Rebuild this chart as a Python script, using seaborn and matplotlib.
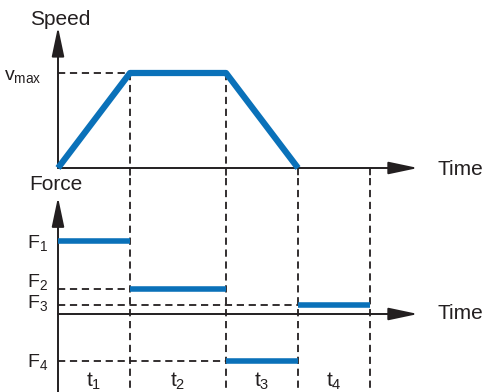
import matplotlib
matplotlib.use("Agg")
import matplotlib.pyplot as plt
import matplotlib.transforms as mtransforms
import seaborn as sns
import pandas as pd

# --- Data ---
phase_ends = [0, 3, 7, 10, 13]               # boundaries of t1..t4
phase_labels = ["t$_1$", "t$_2$", "t$_3$", "t$_4$"]

speed_t = [0, 3, 7, 10]
speed_v = [0, 1, 1, 0]
vmax = 1

force_labels = ["F$_1$", "F$_2$", "F$_3$", "F$_4$"]
force_values = [1.0, 0.34, 0.12, -0.64]
phase_force = ["F$_1$", "F$_2$", "F$_4$", "F$_3$"]   # force level in each phase

BLUE = "#0a71b9"
INK = "#231f20"
FS = 15
FS_LBL = 14

sns.set_theme(style="white")
plt.rcParams["font.family"] = ["Liberation Sans", "DejaVu Sans"]
plt.rcParams["mathtext.default"] = "regular"

# pixel layout helpers
W, H = 484, 392
X0, PX_T = 58, 24          # time origin (px) and px per time unit
SPLIT = 178                # px row where the two panels meet
S0, PX_S = 168, 95         # speed zero row and px per unit
F0, PX_F = 314, 73         # force zero row and px per unit

fig = plt.figure(figsize=(W / 100, H / 100), dpi=100)
ax_s = fig.add_axes([0, (H - SPLIT) / H, 1, SPLIT / H])
ax_f = fig.add_axes([0, 0, 1, (H - SPLIT) / H])
xlim = (-X0 / PX_T, (W - X0) / PX_T)
ax_s.set_xlim(xlim)
ax_f.set_xlim(xlim)
ax_s.set_ylim(-(SPLIT - S0) / PX_S, S0 / PX_S)
ax_f.set_ylim(-(H - F0) / PX_F, (F0 - SPLIT) / PX_F)
for ax in (ax_s, ax_f):
    ax.axis("off")

dash = dict(color=INK, lw=1.3, ls=(0, (4, 2.6)))
t_end = phase_ends[-1] + 2
arrow = dict(arrowstyle="-|>,head_length=1.8,head_width=0.38", mutation_scale=10,
             color=INK, lw=1.4, shrinkA=0, shrinkB=0)

# --- Speed panel ---
sb = ax_s.get_ylim()[0]
ax_s.plot([0, phase_ends[1]], [vmax, vmax], **dash)
for i, t in enumerate(phase_ends[1:], start=1):
    top = vmax if i in (1, 2) else 0
    ax_s.plot([t, t], [top, sb], **dash)
ax_s.annotate("", xy=(t_end, 0), xytext=(0, 0), arrowprops=arrow)
ax_s.annotate("", xy=(0, 1.485), xytext=(0, 0), arrowprops=arrow)
sns.lineplot(x=speed_t, y=speed_v, ax=ax_s, color=BLUE, lw=4.5, sort=False,
             solid_capstyle="butt", zorder=5)
ax_s.text(0.08, 1.51, "Speed", fontsize=FS, color=INK, ha="center", va="baseline")
ax_s.annotate("v$_{max}$", xy=(0, vmax), xytext=(-16, -7), textcoords="offset pixels",
              fontsize=FS_LBL, color=INK, ha="right", va="baseline")
ax_s.text(15.8, 0, "Time", fontsize=FS, color=INK, ha="left", va="baseline",
          transform=ax_s.transData + mtransforms.ScaledTranslation(0, -7 / 100, fig.dpi_scale_trans))

# --- Force panel ---
fb, ft = ax_f.get_ylim()
level = dict(zip(force_labels, force_values))
for t in phase_ends[1:]:
    ax_f.plot([t, t], [ft, fb], **dash)
for i, name in enumerate(phase_force):
    if phase_ends[i] > 0:
        ax_f.plot([0, phase_ends[i]], [level[name]] * 2, **dash)
ax_f.annotate("", xy=(t_end, 0), xytext=(0, 0), arrowprops=arrow)
ax_f.annotate("", xy=(0, 1.6), xytext=(0, fb), arrowprops=arrow)

seg = pd.DataFrame({
    "t": [t for i in range(4) for t in (phase_ends[i], phase_ends[i + 1])],
    "F": [level[phase_force[i]] for i in range(4) for _ in range(2)],
    "seg": [i for i in range(4) for _ in range(2)],
})
sns.lineplot(data=seg, x="t", y="F", units="seg", estimator=None, ax=ax_f,
             color=BLUE, lw=4, solid_capstyle="butt", zorder=5)

nudge = [0, 9, 4, 1]
for name, val, dy in zip(force_labels, force_values, nudge):
    ax_f.annotate(name, xy=(0, val), xytext=(-10, -7 + dy), textcoords="offset pixels",
                  fontsize=FS_LBL, color=INK, ha="right", va="baseline")
ax_f.text(-0.08, 1.70, "Force", fontsize=FS, color=INK, ha="center", va="baseline")
ax_f.text(15.8, 0, "Time", fontsize=FS, color=INK, ha="left", va="baseline",
          transform=ax_f.transData + mtransforms.ScaledTranslation(0, -5 / 100, fig.dpi_scale_trans))

blend = mtransforms.blended_transform_factory(ax_f.transData, ax_f.transAxes)
for i, lab in enumerate(phase_labels):
    mid = (phase_ends[i] + phase_ends[i + 1]) / 2
    ax_f.text(mid, 5 / (H - SPLIT), lab, fontsize=FS, color=INK, ha="center",
              va="baseline", transform=blend)

fig.savefig("out.png", dpi=100)
